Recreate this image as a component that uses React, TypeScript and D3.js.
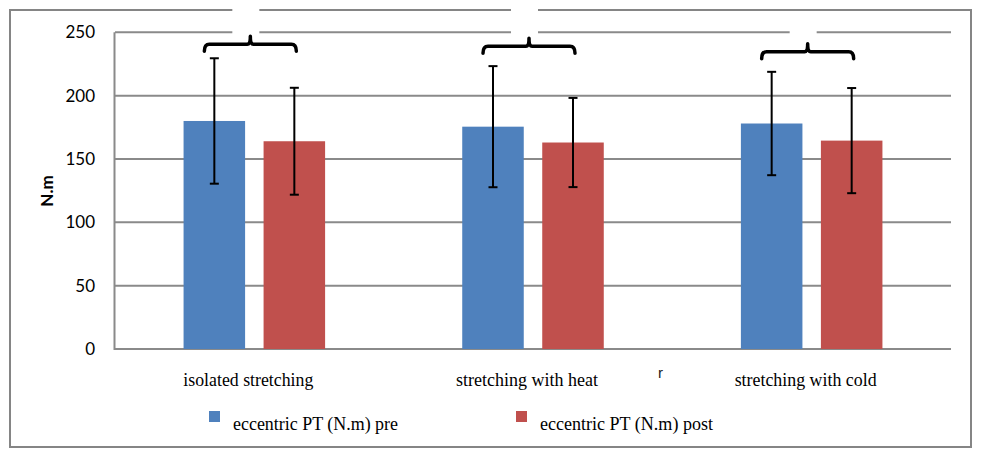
import React from "react";
import * as d3 from "d3";

const categories = ["isolated stretching", "stretching with heat", "stretching with cold"];
const seriesNames = ["eccentric PT (N.m) pre", "eccentric PT (N.m) post"];
const preValues = [180, 175.5, 178];
const postValues = [164, 163, 164.5];
const preSD = [49.5, 47.8, 40.8];
const postSD = [42.2, 35.2, 41.5];
const yTicks = [0, 50, 100, 150, 200, 250];
const braceLevels = [240.5, 239, 234.7];
const yLabel = "N.m";
const strayMark = "r";

const colors = ["#4F81BD", "#C0504D"];

const W = 981;
const H = 460;
const plot = { left: 115, right: 951, top: 32.3, bottom: 349 };
const categoryLabelWidths = [130, 142, 142];
const legendLabelWidths = [165, 173];

export default function App() {
  const x = d3.scaleBand<string>().domain(categories).range([plot.left, plot.right]).paddingInner(0).paddingOuter(0);
  const xInner = d3
    .scaleBand<string>()
    .domain(seriesNames)
    .range([0, x.bandwidth()])
    .paddingInner(0.231)
    .paddingOuter(0.857);
  const y = d3.scaleLinear().domain([0, 250]).range([plot.bottom, plot.top]);

  const series = [
    { name: seriesNames[0], values: preValues, sd: preSD, color: colors[0] },
    { name: seriesNames[1], values: postValues, sd: postSD, color: colors[1] },
  ];

  const gridColor = "#8a8a8a";
  const serif = "'Liberation Serif', 'Times New Roman', serif";
  const sans = "Lato, 'Liberation Sans', sans-serif";

  const bracePath = (x0: number, x1: number, xc: number, yb: number) => {
    const p = d3.path();
    p.moveTo(x0, yb + 7);
    p.quadraticCurveTo(x0, yb, x0 + 5, yb);
    p.lineTo(xc - 3, yb);
    p.quadraticCurveTo(xc, yb, xc, yb - 8);
    p.quadraticCurveTo(xc, yb, xc + 3, yb);
    p.lineTo(x1 - 5, yb);
    p.quadraticCurveTo(x1, yb, x1, yb + 7);
    return p.toString();
  };

  return (
    <svg width={W} height={H} style={{ position: "absolute", left: 0, top: 0, background: "#fff" }}>
      <rect x={0} y={0} width={W} height={H} fill="#fff" />
      {/* outer border */}
      <rect x={10} y={10} width={961} height={437} fill="none" stroke="#858585" strokeWidth={2} />

      {/* gridlines */}
      {yTicks.map((t) => (
        <line
          key={"g" + t}
          x1={plot.left}
          x2={plot.right}
          y1={y(t)}
          y2={y(t)}
          stroke={gridColor}
          strokeWidth={2}
        />
      ))}
      {/* y axis line */}
      <line x1={plot.left - 0.5} x2={plot.left - 0.5} y1={y(250)} y2={y(0) + 1} stroke={gridColor} strokeWidth={2} />

      {/* y tick labels */}
      {yTicks.map((t) => (
        <text
          key={"t" + t}
          x={95}
          y={y(t)}
          dy="0.36em"
          textAnchor="end"
          fontFamily={sans}
          fontSize={17}
          fill="#000"
        >
          {t}
        </text>
      ))}
      <text
        transform={`translate(53,191) rotate(-90)`}
        textAnchor="middle"
        fontFamily={sans}
        fontWeight="bold"
        fontSize={17}
        fill="#000"
      >
        {yLabel}
      </text>

      {/* bars */}
      {series.map((s) =>
        categories.map((c, i) => {
          const bx = (x(c) as number) + (xInner(s.name) as number);
          return (
            <rect
              key={s.name + c}
              x={bx}
              y={y(s.values[i])}
              width={xInner.bandwidth()}
              height={y(0) - y(s.values[i])}
              fill={s.color}
            />
          );
        })
      )}

      {/* error bars */}
      {series.map((s) =>
        categories.map((c, i) => {
          const cx = (x(c) as number) + (xInner(s.name) as number) + xInner.bandwidth() / 2;
          const hi = y(s.values[i] + s.sd[i]);
          const lo = y(s.values[i] - s.sd[i]);
          return (
            <g key={"e" + s.name + c} stroke="#000" strokeWidth={2}>
              <line x1={cx} x2={cx} y1={hi} y2={lo} />
              <line x1={cx - 4.5} x2={cx + 4.5} y1={hi} y2={hi} />
              <line x1={cx - 4.5} x2={cx + 4.5} y1={lo} y2={lo} />
            </g>
          );
        })
      )}

      {/* white boxes and braces */}
      {categories.map((c, i) => {
        const center = (x(c) as number) + x.bandwidth() / 2;
        const xc = center - 4;
        const yb = y(braceLevels[i]);
        const boxTop = i === 2 ? 20 : 7;
        return (
          <g key={"b" + c}>
            <rect x={xc - 18} y={boxTop} width={27} height={34.5 - boxTop} fill="#fff" />
            <path
              d={bracePath(center - 50, center + 42, xc, yb)}
              fill="none"
              stroke="#000"
              strokeWidth={3.5}
              strokeLinecap="round"
              strokeLinejoin="round"
            />
          </g>
        );
      })}

      {/* category labels */}
      {categories.map((c, i) => (
        <text
          key={"c" + c}
          x={(x(c) as number) + x.bandwidth() / 2 - 6}
          y={386}
          textAnchor="middle"
          fontFamily={serif}
          fontSize={19}
          textLength={categoryLabelWidths[i]}
          lengthAdjust="spacingAndGlyphs"
          fill="#000"
        >
          {c}
        </text>
      ))}
      <text x={658} y={378} fontFamily="'Liberation Sans', sans-serif" fontSize={15} fill="#222">
        {strayMark}
      </text>

      {/* legend */}
      {series.map((s, i) => {
        const lx = i === 0 ? 209 : 516;
        return (
          <g key={"l" + s.name}>
            <rect x={lx} y={411} width={11} height={11} fill={s.color} />
            <text
              x={lx + 24}
              y={430}
              fontFamily={serif}
              fontSize={19}
              textLength={legendLabelWidths[i]}
              lengthAdjust="spacingAndGlyphs"
              fill="#000"
            >
              {s.name}
            </text>
          </g>
        );
      })}
    </svg>
  );
}
